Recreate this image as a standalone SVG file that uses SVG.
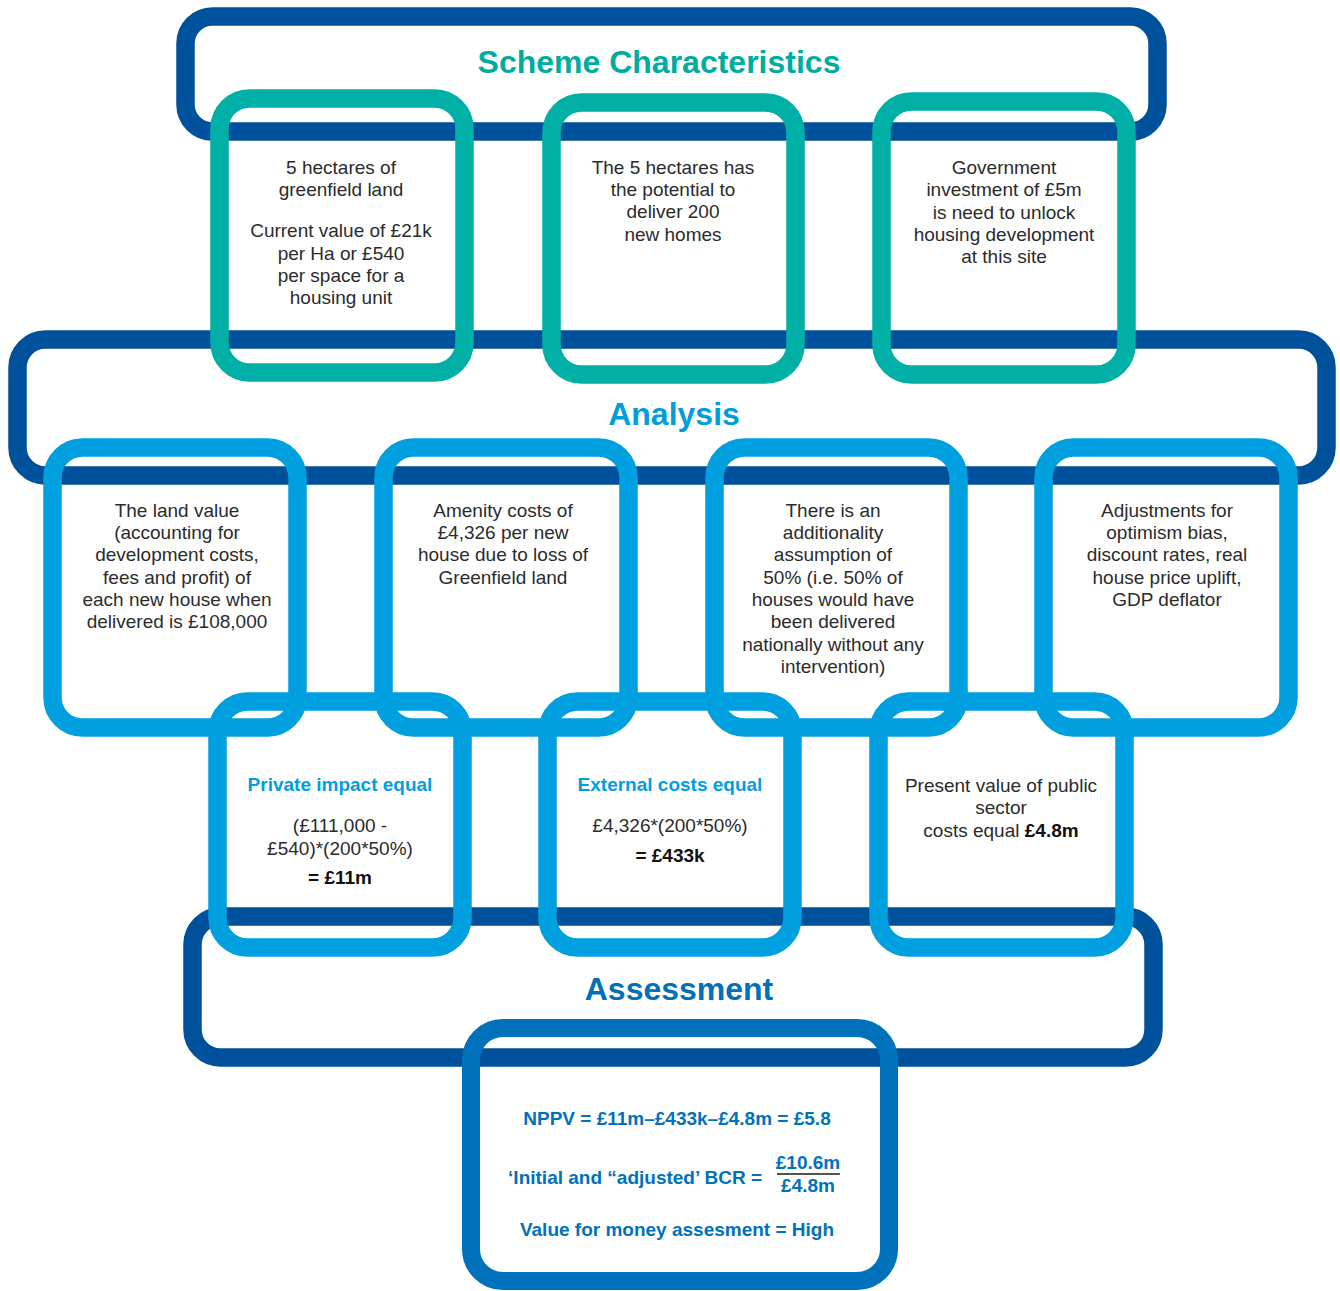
<svg xmlns="http://www.w3.org/2000/svg" width="1340" height="1291" viewBox="0 0 1340 1291">
<style>
.box{fill:none;stroke-width:18.5}
.dark{stroke:#00519b}
.teal{stroke:#00b0a6}
.light{stroke:#009fdf}
.final{stroke:#0071bb}
.t{font-family:"Liberation Sans",Arial,sans-serif;font-size:19px;fill:#2b2b2b;text-anchor:middle}
.b{font-weight:bold;fill:#111}
.lb{font-family:"Liberation Sans",Arial,sans-serif;font-size:19px;font-weight:bold;fill:#009fdf;text-anchor:middle}
.fb{font-family:"Liberation Sans",Arial,sans-serif;font-size:19px;font-weight:bold;fill:#0071bb}
.title{font-family:"Liberation Sans",Arial,sans-serif;font-size:32px;font-weight:bold;text-anchor:middle}
</style>
<rect width="1340" height="1291" fill="#ffffff"/>

<g id="scheme">
<rect class="box dark" x="185.5" y="16.5" width="972" height="115" rx="27"/>
<text class="title" x="659" y="73" fill="#00ab9f">Scheme Characteristics</text>
</g>
<g id="analysis">
<rect class="box dark" x="17.5" y="339.5" width="1309" height="136" rx="28"/>
<text class="title" x="674" y="425" fill="#009ddc">Analysis</text>
</g>
<g id="assessment">
<rect class="box dark" x="192.5" y="916.5" width="961" height="141" rx="28"/>
<text class="title" x="679" y="1000" fill="#0070b9">Assessment</text>
</g>

<g id="land">
<rect class="box teal" x="219.5" y="98.5" width="245" height="274" rx="30"/>
<text class="t"><tspan x="341" y="174">5 hectares of</tspan><tspan x="341" y="196">greenfield land</tspan><tspan x="341" y="237">Current value of £21k</tspan><tspan x="341" y="260">per Ha or £540</tspan><tspan x="341" y="282">per space for a</tspan><tspan x="341" y="304">housing unit</tspan></text>
</g>
<g id="homes">
<rect class="box teal" x="551.5" y="102.5" width="244" height="272" rx="30"/>
<text class="t"><tspan x="673" y="174">The 5 hectares has</tspan><tspan x="673" y="196">the potential to</tspan><tspan x="673" y="218">deliver 200</tspan><tspan x="673" y="241">new homes</tspan></text>
</g>
<g id="investment">
<rect class="box teal" x="881.5" y="101.5" width="245" height="273" rx="30"/>
<text class="t"><tspan x="1004" y="174">Government</tspan><tspan x="1004" y="196">investment of £5m</tspan><tspan x="1004" y="219">is need to unlock</tspan><tspan x="1004" y="241">housing development</tspan><tspan x="1004" y="263">at this site</tspan></text>
</g>

<g id="landvalue">
<rect class="box light" x="52.5" y="447.5" width="245" height="280" rx="30"/>
<text class="t"><tspan x="177" y="517">The land value</tspan><tspan x="177" y="539">(accounting for</tspan><tspan x="177" y="561">development costs,</tspan><tspan x="177" y="584">fees and profit) of</tspan><tspan x="177" y="606">each new house when</tspan><tspan x="177" y="628">delivered is £108,000</tspan></text>
</g>
<g id="amenity">
<rect class="box light" x="383.5" y="447.5" width="245" height="280" rx="30"/>
<text class="t"><tspan x="503" y="517">Amenity costs of</tspan><tspan x="503" y="539">£4,326 per new</tspan><tspan x="503" y="561">house due to loss of</tspan><tspan x="503" y="584">Greenfield land</tspan></text>
</g>
<g id="additionality">
<rect class="box light" x="714.5" y="447.5" width="244" height="280" rx="30"/>
<text class="t"><tspan x="833" y="517">There is an</tspan><tspan x="833" y="539">additionality</tspan><tspan x="833" y="561">assumption of</tspan><tspan x="833" y="584">50% (i.e. 50% of</tspan><tspan x="833" y="606">houses would have</tspan><tspan x="833" y="628">been delivered</tspan><tspan x="833" y="651">nationally without any</tspan><tspan x="833" y="673">intervention)</tspan></text>
</g>
<g id="adjustments">
<rect class="box light" x="1043.5" y="447.5" width="245" height="280" rx="30"/>
<text class="t"><tspan x="1167" y="517">Adjustments for</tspan><tspan x="1167" y="539">optimism bias,</tspan><tspan x="1167" y="561">discount rates, real</tspan><tspan x="1167" y="584">house price uplift,</tspan><tspan x="1167" y="606">GDP deflator</tspan></text>
</g>

<g id="private">
<rect class="box light" x="217.5" y="701.5" width="245" height="246" rx="30"/>
<text class="lb" x="340" y="791">Private impact equal</text>
<text class="t"><tspan x="340" y="832">(£111,000 -</tspan><tspan x="340" y="855">£540)*(200*50%)</tspan><tspan x="340" y="884" class="b">= £11m</tspan></text>
</g>
<g id="external">
<rect class="box light" x="547.5" y="701.5" width="245" height="246" rx="30"/>
<text class="lb" x="670" y="791">External costs equal</text>
<text class="t"><tspan x="670" y="832">£4,326*(200*50%)</tspan><tspan x="670" y="862" class="b">= £433k</tspan></text>
</g>
<g id="public">
<rect class="box light" x="878.5" y="701.5" width="246" height="246" rx="30"/>
<text class="t"><tspan x="1001" y="792">Present value of public</tspan><tspan x="1001" y="814">sector</tspan><tspan x="1001" y="837">costs equal <tspan class="b">£4.8m</tspan></tspan></text>
</g>

<g id="result">
<rect class="box final" x="471" y="1028" width="418" height="253" rx="32" style="stroke-width:18"/>
<text class="fb" x="677" y="1125" text-anchor="middle">NPPV = £11m–£433k–£4.8m = £5.8</text>
<text class="fb" x="762" y="1184" text-anchor="end">‘Initial and “adjusted’ BCR =</text>
<text class="fb" x="808" y="1169" text-anchor="middle">£10.6m</text>
<line x1="777" y1="1174" x2="840" y2="1174" stroke="#1a1a1a" stroke-width="1.5"/>
<text class="fb" x="808" y="1192" text-anchor="middle">£4.8m</text>
<text class="fb" x="677" y="1236" text-anchor="middle">Value for money assesment = High</text>
</g>

<g id="connectors"></g>
</svg>
